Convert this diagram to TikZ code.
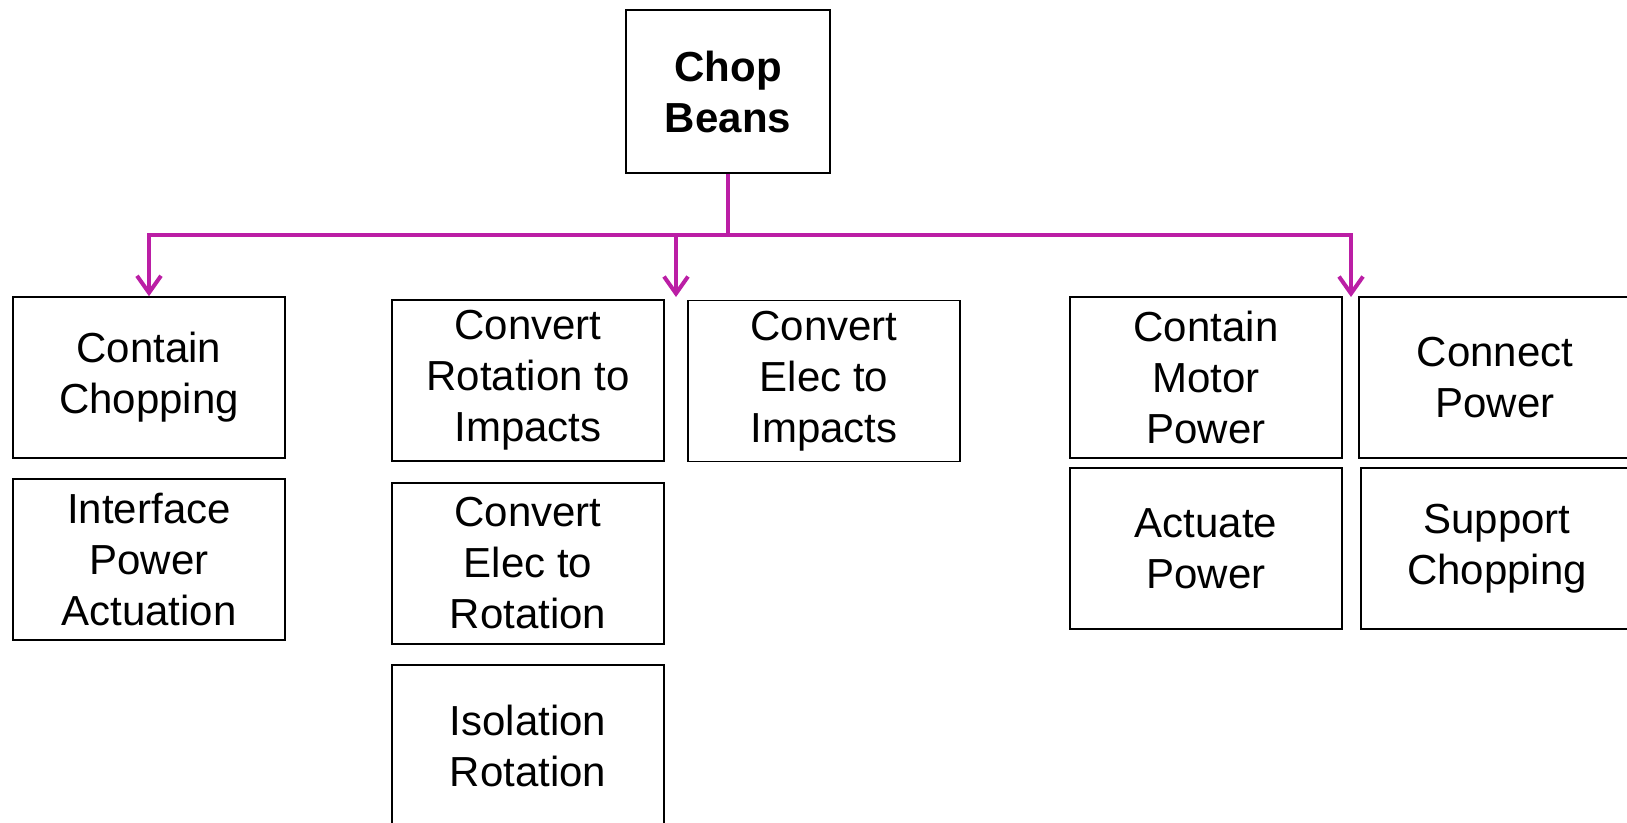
\documentclass[tikz,border=0pt]{standalone}
\usepackage{fontspec}
\setmainfont{Liberation Sans}
\usetikzlibrary{arrows.meta}

\definecolor{treeline}{RGB}{187,30,165}

\tikzset{
  func/.style={draw=black, line width=1.5pt, minimum width=272pt, minimum height=161pt,
    align=center, inner sep=0pt, font=\fontsize{42}{51}\selectfont},
  link/.style={draw=treeline, line width=4pt},
  tip/.style={-{Straight Barb[length=17pt,width=24pt]}}
}

\begin{document}
\begin{tikzpicture}[x=1pt, y=-1pt]
          \useasboundingbox (0,0) rectangle (1627,822);

          % top level function
          \node[func, minimum width=204pt, minimum height=163pt, font=\fontsize{42}{51}\selectfont\bfseries]
            (chop) at (728,91.5) {Chop\\Beans};

          % sub functions
          \node[func] (contain) at (149,377.5) {Contain\\Chopping};
          \node[func] (iface)   at (149,559.5) {Interface\\Power\\Actuation};

          \node[func] (rotimp)  at (528,380.5) {Convert\\Rotation to\\Impacts};
          \node[func] (elecrot) at (528,563.5) {Convert\\Elec to\\Rotation};
          \node[func] (isol)    at (528,745.5) {Isolation\\Rotation};
          \node[func] (elecimp) at (824,381)   {Convert\\Elec to\\Impacts};

          \node[func] (motor)   at (1206,377.5) {Contain\\Motor\\Power};
          \node[func] (actuate) at (1206,548.5) {Actuate\\Power};
          \node[func] (connect) at (1495,377.5) {Connect\\Power};
          \node[func] (support) at (1497,548.5) {Support\\Chopping};

          % branching lines
          \coordinate (bus) at (728,235);
          \coordinate (midtip) at (676,297);
          \coordinate (righttip) at (1351,297);

          \draw[link] (chop.south) -- (bus);
          \foreach \t in {contain.north, midtip, righttip}{
            \draw[link, tip] (bus) -| (\t);
          }
        \end{tikzpicture}
\end{document}
